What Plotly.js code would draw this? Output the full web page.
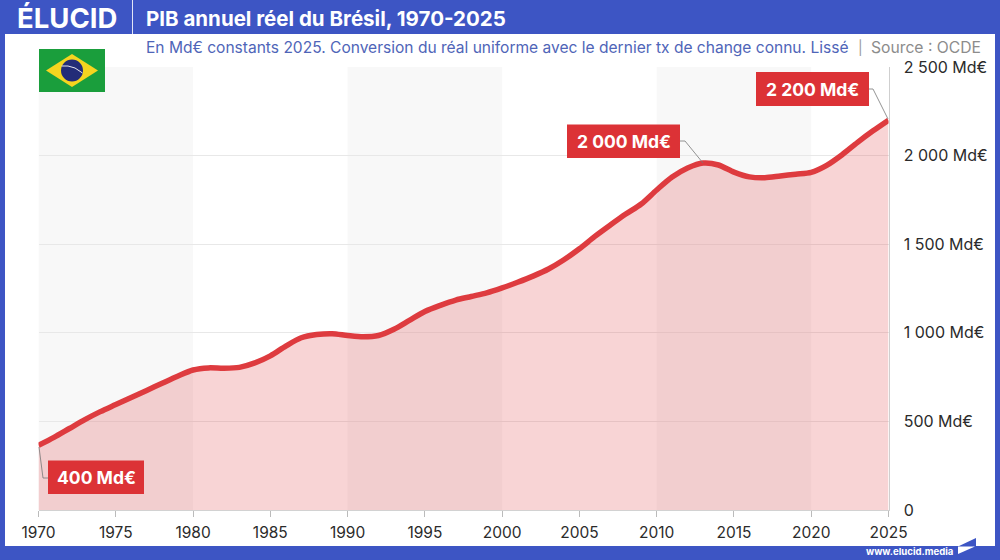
<!DOCTYPE html>
<html><head><meta charset="utf-8">
<script src="https://cdn.plot.ly/plotly-3.0.1.min.js"></script>
<style>html,body{margin:0;padding:0;background:#fff}#c{width:1000px;height:560px}</style></head>
<body><div id="c"></div>
<script>
const years = [1970,1971,1972,1973,1974,1975,1976,1977,1978,1979,1980,1981,1982,1983,1984,1985,1986,1987,1988,1989,1990,1991,1992,1993,1994,1995,1996,1997,1998,1999,2000,2001,2002,2003,2004,2005,2006,2007,2008,2009,2010,2011,2012,2013,2014,2015,2016,2017,2018,2019,2020,2021,2022,2023,2024,2025];
const gdp = [365,410,460,510,555,595,635,675,715,755,790,802,800,805,830,870,925,972,990,995,985,978,985,1020,1070,1120,1155,1185,1205,1225,1253,1285,1320,1360,1412,1474,1544,1608,1670,1727,1806,1879,1930,1958,1947,1907,1880,1875,1885,1895,1905,1945,2005,2075,2140,2200];
const yTicks = [0,500,1000,1500,2000,2500];
const yLabels = ['0','500 Md€','1 000 Md€','1 500 Md€','2 000 Md€','2 500 Md€'];
const xTicks = [1970,1975,1980,1985,1990,1995,2000,2005,2010,2015,2020,2025];
const bands = [[1970,1980],[1990,2000],[2010,2020]];
const W=1000,H=560;
const px=x=>x/W, py=y=>1-y/H;
const BLUE='#3d55c4', RED='#de3b3f', BOX='#dc3236', F='Inter, sans-serif';
const rect=(x0,y0,x1,y1,c,layer='below')=>({type:'rect',xref:'paper',yref:'paper',x0:px(x0),x1:px(x1),y0:py(y0),y1:py(y1),fillcolor:c,line:{width:0},layer});
const poly=(pts,fill,lineC,w)=>({type:'path',xref:'paper',yref:'paper',layer:'above',
  path:'M'+pts.map(p=>px(p[0])+','+py(p[1])).join(' L')+(fill?' Z':''),fillcolor:fill||'rgba(0,0,0,0)',line:{color:lineC||'rgba(0,0,0,0)',width:w||0}});
const shapes=[
 rect(5,34,995,546,'#ffffff'),
 ...bands.map(b=>({type:'rect',xref:'x',yref:'y',x0:b[0],x1:b[1],y0:0,y1:2500,fillcolor:'#f8f8f8',line:{width:0},layer:'below'})),
 rect(132,0,133,34,'rgba(255,255,255,0.85)','above'),
 // flag
 rect(39,49,105,92,'#1a9e3c','above'),
 poly([[46,70.5],[72,54],[98,70.5],[72,87]],'#f6d51f'),
 {type:'circle',xref:'paper',yref:'paper',layer:'above',x0:px(61),x1:px(83),y0:py(59.5),y1:py(81.5),fillcolor:'#232c78',line:{width:0}},
 poly([[61.5,66],[68,66],[75,68],[82.5,73]],null,'#e6e6ef',1),
 // logo sail
 poly([[958,546.5],[976,538],[976,546.5]],BLUE),
 poly([[958,546.5],[975,546.5],[958,554]],'#ffffff'),
 // label boxes
 rect(48,460.5,144,494,BOX,'above'),
 rect(567,124.5,680,158,BOX,'above'),
 rect(756,72,869,106,BOX,'above'),
 // leader lines
 poly([[39,447],[43,478],[48,478]],null,'#777',0.8),
 poly([[680,141],[685,141],[703,163]],null,'#777',0.8),
 poly([[869,89],[873,89],[888,119]],null,'#777',0.8)
];
const txt=(x,y,text,size,color,anchor='left',extra={})=>Object.assign({xref:'paper',yref:'paper',x:px(x),y:py(y),text,showarrow:false,xanchor:anchor,yanchor:'middle',borderpad:0,borderwidth:0,font:{family:F,size,color}},extra);
const label=(x,y,text)=>txt(x,y,'<b>'+text+'</b>',17.5,'#fff','center');
const annotations=[
 txt(17,17.5,'<b>ÉLUCID</b>',27.5,'#fff'),
 txt(145.5,18,'<b>PIB annuel réel du Brésil, 1970-2025</b>',20.5,'#fff'),
 txt(146,47,'En Md€ constants 2025. Conversion du réal uniforme avec le dernier tx de change connu. Lissé',15.55,'#4f65b8'),
 txt(860,47,'|',14,'#9a9a9a','center'),
 txt(981,47,'Source : OCDE',15.7,'#8c8c8c','right'),
 txt(953,551,'<b>www.elucid.media</b>',9.6,'#fff','right'),
 label(96,477.5,'400 Md€'),
 label(623.5,141.5,'2 000 Md€'),
 label(812.5,89,'2 200 Md€')
];
const trace={x:years,y:gdp,type:'scatter',mode:'lines',line:{color:RED,width:5.5,shape:'spline',smoothing:0.8},fill:'tozeroy',fillcolor:'rgba(223,58,62,0.22)',hoverinfo:'skip'};
const layout={width:W,height:H,margin:{l:0,r:0,t:0,b:0},paper_bgcolor:BLUE,plot_bgcolor:'rgba(0,0,0,0)',showlegend:false,
 font:{family:F,color:'#2b2b2b',size:16},
 xaxis:{domain:[px(38.5),px(888.5)],range:[1970,2025],tickvals:xTicks,ticktext:xTicks.map(String),ticks:'outside',ticklen:6,tickwidth:1,tickcolor:'#bbb',showgrid:false,zeroline:false,showline:true,linecolor:'#d2d2d2',linewidth:1,tickfont:{size:15.5,color:'#2b2b2b'},tickangle:0,ticklabelstandoff:2},
 yaxis:{domain:[py(510),py(67)],range:[0,2500],side:'right',tickvals:yTicks,ticktext:yLabels,ticks:'',ticklabelstandoff:11,showgrid:true,gridcolor:'#e8e8e8',gridwidth:1,zeroline:false,showline:true,linecolor:'#cfcfcf',linewidth:1,tickfont:{size:16,color:'#2b2b2b'}},
 shapes,annotations};
Plotly.newPlot('c',[trace],layout,{staticPlot:true,displayModeBar:false});
</script></body></html>
